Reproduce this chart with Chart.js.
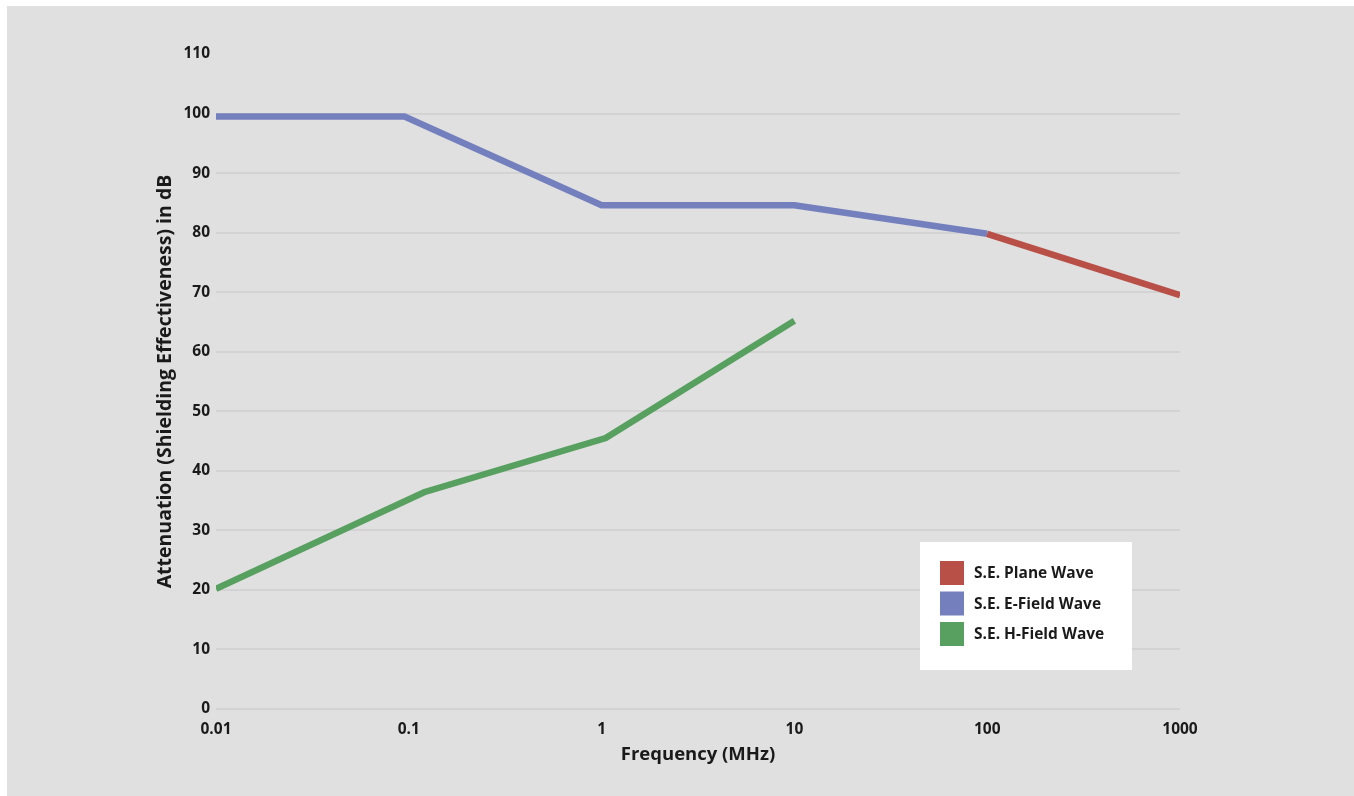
<!DOCTYPE html>
<html>
<head>
<meta charset="utf-8">
<script src="https://cdn.jsdelivr.net/npm/chart.js@4.4.1/dist/chart.umd.min.js"></script>
<style>
  html, body { margin: 0; padding: 0; background: #ffffff; }
  #wrap { width: 1354px; height: 796px; position: relative; }
</style>
</head>
<body>
<div id="wrap"><canvas id="c"></canvas></div>
<script>
// ---- Data ----
const seriesLabels = ['S.E. Plane Wave', 'S.E. E-Field Wave', 'S.E. H-Field Wave'];
const planeFreq = [100, 1000];
const planeDb = [79.8, 69.5];
const eFieldFreq = [0.01, 0.095, 1, 10, 100];
const eFieldDb = [99.5, 99.5, 84.6, 84.6, 79.8];
const hFieldFreq = [0.01, 0.12, 1.05, 10];
const hFieldDb = [20.2, 36.4, 45.5, 65.2];
const xTickValues = [0.01, 0.1, 1, 10, 100, 1000];
const xTickLabels = ['0.01', '0.1', '1', '10', '100', '1000'];
const yTickValues = [0, 10, 20, 30, 40, 50, 60, 70, 80, 90, 100, 110];

const colors = ['#b85048', '#7480be', '#58a060'];
const FONT = "'Open Sans'";
const toPoints = (xs, ys) => xs.map((x, i) => ({ x: x, y: ys[i] }));

const bgPlugin = {
  id: 'bg',
  beforeDraw(chart) {
    const { ctx, width, height } = chart;
    ctx.save();
    ctx.fillStyle = '#ffffff';
    ctx.fillRect(0, 0, width, height);
    ctx.fillStyle = '#e0e0e0';
    ctx.fillRect(7, 6, width - 7, height - 6);
    ctx.restore();
  }
};

const legendPlugin = {
  id: 'boxLegend',
  afterDraw(chart) {
    const { ctx } = chart;
    const bx = 920, by = 542, bw = 212, bh = 128;
    ctx.save();
    ctx.fillStyle = '#ffffff';
    ctx.fillRect(bx, by, bw, bh);
    ctx.font = "700 15.5px " + FONT;
    ctx.textBaseline = 'middle';
    ctx.textAlign = 'left';
    chart.data.datasets.forEach((ds, i) => {
      const cy = 573 + i * 30.5;
      ctx.fillStyle = ds.borderColor;
      ctx.fillRect(940, cy - 12, 24, 24);
      ctx.fillStyle = '#1a1a1a';
      ctx.fillText(ds.label, 974, cy + 1);
    });
    ctx.restore();
  }
};

function build() {
  Chart.defaults.font.family = FONT;
  Chart.defaults.color = '#1a1a1a';
  new Chart(document.getElementById('c'), {
    type: 'line',
    data: {
      datasets: [
        { label: seriesLabels[0], data: toPoints(planeFreq, planeDb), borderColor: colors[0], backgroundColor: colors[0] },
        { label: seriesLabels[1], data: toPoints(eFieldFreq, eFieldDb), borderColor: colors[1], backgroundColor: colors[1] },
        { label: seriesLabels[2], data: toPoints(hFieldFreq, hFieldDb), borderColor: colors[2], backgroundColor: colors[2] }
      ]
    },
    options: {
      responsive: true,
      maintainAspectRatio: false,
      animation: false,
      devicePixelRatio: 1,
      layout: { padding: { left: 154, top: 54, right: 174, bottom: 30 } },
      elements: {
        line: { borderWidth: 6.5, tension: 0, borderCapStyle: 'butt', borderJoinStyle: 'miter' },
        point: { radius: 0, hoverRadius: 0 }
      },
      plugins: { legend: { display: false }, tooltip: { enabled: false } },
      scales: {
        x: {
          type: 'logarithmic',
          min: 0.01,
          max: 1000,
          afterBuildTicks(scale) { scale.ticks = xTickValues.map(v => ({ value: v })); },
          afterFit(scale) { scale.height = 57; },
          grid: { display: false, drawTicks: false },
          border: { display: false },
          ticks: {
            autoSkip: false,
            maxRotation: 0,
            padding: 11,
            font: { size: 15.5, weight: '700' },
            color: '#1a1a1a',
            callback(value, index) { return xTickLabels[index]; }
          },
          title: {
            display: true,
            text: 'Frequency (MHz)',
            font: { size: 18.5, weight: '700' },
            color: '#1a1a1a',
            padding: 0
          }
        },
        y: {
          type: 'linear',
          min: 0,
          max: 110,
          afterBuildTicks(scale) { scale.ticks = yTickValues.map(v => ({ value: v })); },
          afterFit(scale) { scale.width = 62; },
          grid: {
            drawTicks: false,
            lineWidth: 2,
            color(ctx) { return ctx.tick && ctx.tick.value === 110 ? 'rgba(0,0,0,0)' : '#d3d3d3'; }
          },
          border: { display: false },
          ticks: {
            padding: 6,
            font: { size: 15.5, weight: '700' },
            color: '#1a1a1a'
          },
          title: {
            display: true,
            text: 'Attenuation (Shielding Effectiveness) in dB',
            font: { size: 19.5, weight: '700' },
            color: '#1a1a1a',
            padding: 0
          }
        }
      }
    },
    plugins: [bgPlugin, legendPlugin]
  });
}

if (document.fonts && document.fonts.load) {
  Promise.all([
    document.fonts.load("700 15px 'Open Sans'"),
    document.fonts.load("700 17px 'Open Sans'")
  ]).then(build, build);
} else {
  build();
}
</script>
</body>
</html>
